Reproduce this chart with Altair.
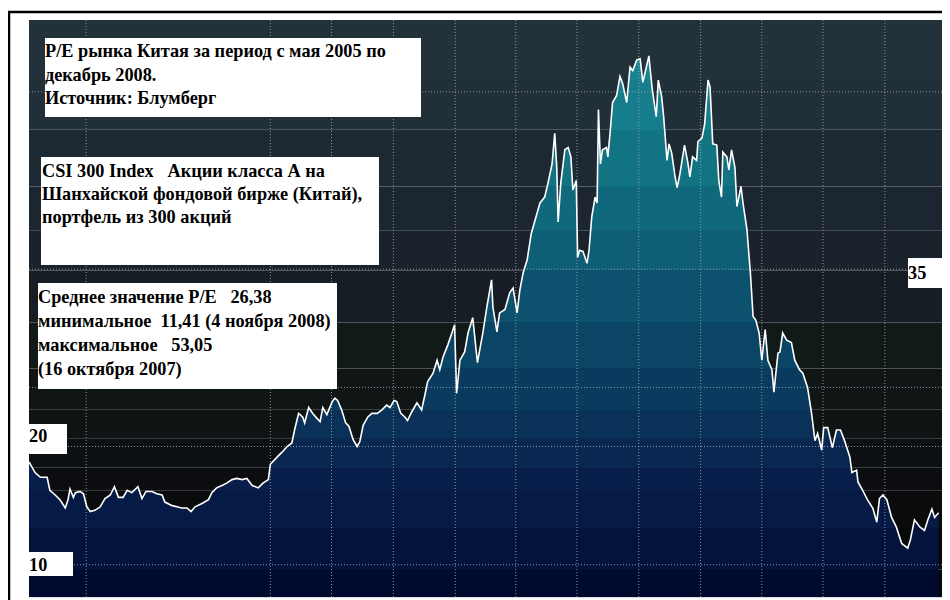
import pandas as pd
import altair as alt

# ── data: P/E of the CSI 300 ─────────────────────────────────────────────────

dates = [
    "2005-04-07", "2005-04-16", "2005-04-24", "2005-05-04", "2005-05-08", "2005-05-16",
    "2005-05-23", "2005-05-31", "2005-06-04", "2005-06-07", "2005-06-12", "2005-06-15",
    "2005-06-22", "2005-06-27", "2005-07-02", "2005-07-07", "2005-07-14", "2005-07-22",
    "2005-07-29", "2005-08-06", "2005-08-12", "2005-08-18", "2005-08-25", "2005-08-31",
    "2005-09-07", "2005-09-16", "2005-09-22", "2005-09-28", "2005-10-07", "2005-10-14",
    "2005-10-22", "2005-10-26", "2005-11-06", "2005-11-13", "2005-11-20", "2005-11-28",
    "2005-12-04", "2005-12-10", "2005-12-21", "2005-12-30",
    "2006-01-04", "2006-01-11", "2006-01-19", "2006-01-26", "2006-02-03", "2006-02-10",
    "2006-02-18", "2006-02-25", "2006-03-05", "2006-03-14", "2006-03-21", "2006-03-29",
    "2006-04-01", "2006-04-11", "2006-04-18", "2006-04-26", "2006-05-03", "2006-05-07",
    "2006-05-13", "2006-05-19", "2006-05-22", "2006-05-28", "2006-06-03", "2006-06-09",
    "2006-06-14", "2006-06-18", "2006-06-24", "2006-07-02", "2006-07-06", "2006-07-10",
    "2006-07-16", "2006-07-22", "2006-07-27", "2006-08-02", "2006-08-08", "2006-08-12",
    "2006-08-17", "2006-08-24", "2006-08-30", "2006-09-07", "2006-09-14", "2006-09-21",
    "2006-09-26", "2006-10-02", "2006-10-06", "2006-10-12", "2006-10-18", "2006-10-22",
    "2006-10-28", "2006-11-05", "2006-11-12", "2006-11-17", "2006-11-21", "2006-11-29",
    "2006-12-05", "2006-12-09", "2006-12-14", "2006-12-21", "2006-12-27", "2006-12-31",
    "2007-01-03", "2007-01-08", "2007-01-15", "2007-01-20", "2007-01-27", "2007-02-03",
    "2007-02-11", "2007-02-17", "2007-02-24", "2007-02-26", "2007-03-04", "2007-03-08",
    "2007-03-16", "2007-03-23", "2007-03-28", "2007-04-03", "2007-04-07", "2007-04-12",
    "2007-04-18", "2007-04-24", "2007-04-30", "2007-05-07", "2007-05-14", "2007-05-19",
    "2007-05-25", "2007-05-29", "2007-06-01", "2007-06-03", "2007-06-07", "2007-06-13",
    "2007-06-18", "2007-06-22", "2007-06-25", "2007-06-30", "2007-07-02", "2007-07-05",
    "2007-07-10", "2007-07-16", "2007-07-19", "2007-07-23", "2007-07-28", "2007-07-31",
    "2007-08-02", "2007-08-05", "2007-08-08", "2007-08-14", "2007-08-16", "2007-08-20",
    "2007-08-23", "2007-08-29", "2007-09-03", "2007-09-07", "2007-09-13", "2007-09-18",
    "2007-09-22", "2007-09-28", "2007-10-03", "2007-10-07", "2007-10-16", "2007-10-21",
    "2007-10-27", "2007-10-30", "2007-11-04", "2007-11-07", "2007-11-12", "2007-11-15",
    "2007-11-19", "2007-11-24", "2007-11-27", "2007-12-01", "2007-12-08", "2007-12-13",
    "2007-12-16", "2007-12-20", "2007-12-26", "2007-12-28",
    "2008-01-03", "2008-01-07", "2008-01-12", "2008-01-15", "2008-01-19", "2008-01-25",
    "2008-01-28", "2008-02-01", "2008-02-03", "2008-02-09", "2008-02-12", "2008-02-16",
    "2008-02-21", "2008-02-24", "2008-03-01", "2008-03-04", "2008-03-10", "2008-03-11",
    "2008-03-15", "2008-03-19", "2008-03-23", "2008-03-28", "2008-04-01", "2008-04-06",
    "2008-04-10", "2008-04-16", "2008-04-19", "2008-04-25", "2008-04-28", "2008-05-02",
    "2008-05-08", "2008-05-15", "2008-05-20", "2008-05-27", "2008-06-01", "2008-06-08",
    "2008-06-14", "2008-06-19", "2008-06-23", "2008-06-29", "2008-07-02", "2008-07-08",
    "2008-07-15", "2008-07-21", "2008-07-27", "2008-08-02", "2008-08-10", "2008-08-13",
    "2008-08-20", "2008-08-22", "2008-08-29", "2008-09-05", "2008-09-13", "2008-09-19",
    "2008-09-23", "2008-09-28", "2008-10-04", "2008-10-11", "2008-10-18", "2008-10-26",
    "2008-11-04", "2008-11-08", "2008-11-14", "2008-11-22", "2008-11-29", "2008-12-04",
    "2008-12-10", "2008-12-14", "2008-12-20",
]

pe_values = [
    18.7, 17.8, 17.4, 17.4, 16.3, 15.9,
    15.5, 14.8, 15.5, 16.4, 15.7, 16.1,
    16.2, 16.0, 14.9, 14.5, 14.6, 14.9,
    15.6, 15.9, 16.6, 15.7, 15.7, 16.3,
    16.1, 16.6, 15.6, 16.2, 16.2, 16.0,
    15.9, 15.3, 15.0, 14.9, 14.8, 14.8,
    14.5, 14.9, 15.2, 15.5,
    16.1, 16.5, 16.7, 16.9, 17.2, 17.3,
    17.2, 17.3, 16.7, 16.5, 16.9, 17.2,
    18.5, 19.1, 19.5, 20.0, 20.3, 21.4,
    22.8, 22.5, 22.0, 23.3, 22.8, 22.4,
    22.1, 23.3, 22.7, 23.8, 24.1, 23.9,
    23.1, 22.0, 21.7, 20.6, 20.0, 20.4,
    21.8, 22.5, 22.8, 22.8, 23.1, 23.5,
    23.3, 23.9, 23.8, 22.8, 22.5, 22.2,
    22.9, 23.7, 23.1, 24.4, 25.5, 26.2,
    27.3, 26.5, 27.6, 28.6, 29.6, 30.3,
    24.5, 27.3, 28.0, 29.6, 30.9, 27.1,
    29.6, 31.8, 34.1, 31.8, 29.7, 31.3,
    31.6, 33.0, 33.4, 31.3, 33.2, 34.7,
    35.8, 38.0, 39.2, 40.6, 41.1, 42.3,
    43.9, 46.5, 43.6, 39.0, 42.3, 45.1,
    45.3, 44.5, 41.7, 42.5, 36.0, 36.6,
    36.5, 35.5, 36.6, 39.4, 41.1, 40.6,
    48.5, 43.9, 45.1, 45.3, 44.5, 47.0,
    49.1, 49.7, 51.3, 50.7, 49.1, 52.1,
    51.8, 52.7, 52.8, 50.8, 53.05, 50.2,
    47.9, 51.0, 49.6, 47.9, 44.2, 45.6,
    44.8, 42.8, 41.9, 43.0, 45.5, 44.0,
    42.8, 44.5, 44.2, 45.8,
    46.1, 47.3, 51.0, 50.4, 45.6, 45.5,
    42.5, 41.1, 44.9, 44.5, 43.4, 45.1,
    43.6, 40.3, 42.0, 40.6, 38.3, 37.5,
    34.7, 31.0, 30.7, 29.6, 27.3, 29.9,
    27.3, 26.5, 24.6, 27.9, 28.0, 29.6,
    29.0, 28.8, 27.3, 26.5, 26.2, 25.0,
    22.8, 20.5, 21.1, 19.7, 21.6, 21.6,
    19.9, 21.4, 21.4, 20.5, 19.1, 17.8,
    18.0, 17.0, 16.3, 15.5, 14.8, 13.6,
    15.6, 15.9, 15.5, 14.0, 13.2, 11.8,
    11.41, 12.1, 13.8, 13.2, 12.9, 13.8,
    14.7, 14.0, 14.4,
]

# horizontal and vertical dotted grid, month ticks along the bottom
grid_levels = [10, 20, 25, 35, 50]
grid_dates = [
    "2005-07-01", "2006-04-01", "2006-07-01", "2006-10-01", "2007-01-01", "2007-04-01",
    "2007-07-01", "2007-10-01", "2008-01-01", "2008-04-01", "2008-07-01", "2008-10-01",
]
tick_dates = [
    "2005-05-01", "2005-07-01", "2005-08-01", "2005-09-01", "2005-12-01", "2006-04-01",
    "2006-05-01", "2006-07-01", "2006-08-01", "2006-09-01", "2006-10-01", "2006-12-01",
    "2007-01-01", "2007-02-01", "2007-04-01", "2007-05-01", "2007-06-01", "2007-07-01",
    "2007-09-01", "2007-10-01", "2007-12-01", "2008-01-01", "2008-02-01", "2008-03-01",
    "2008-04-01", "2008-06-01", "2008-07-01", "2008-08-01", "2008-09-01", "2008-10-01",
    "2008-11-01",
]

# labelled levels on the value axis
axis_labels = ["20", "10", "35"]

# annotation texts
note_source = "P/E рынка Китая за период с мая 2005 по\nдекабрь 2008.\nИсточник: Блумберг"
note_index = ("CSI 300 Index\u00a0\u00a0 Акции класса А на\n"
              "Шанхайской фондовой бирже (Китай),\nпортфель из 300 акций")
note_stats = ("Среднее значение P/E\u00a0\u00a0 26,38\n"
              "минимальное\u00a0 11,41 (4 ноября 2008)\n"
              "максимальное\u00a0\u00a0 53,05\n(16 октября 2007)")

# ── colour constants ────────────────────────────────────────────────────────

band_edges = [7.27, 9.6, 13.1, 16.3, 18.2, 20.7, 23.1, 26.6, 30.5, 34.9, 38.3, 42.0, 46.8, 51.0, 56.08]
AREA_COLORS = [
    "#010b30", "#03133b", "#051a45", "#081f4b", "#0a2752", "#0a3158", "#0a3a5e",
    "#0a4565", "#0c516d", "#0e5e76", "#10687d", "#127383", "#157d8c", "#178492",
]
BG_COLORS = [
    "#070809", "#08090b", "#0a0b0d", "#0b0d11", "#0d1013", "#0e1314", "#101615",
    "#121a19", "#161d24", "#1a222b", "#1b2630", "#1d2a33", "#212f38", "#22313a",
]
GRID_COLOR = "#a0a8b0"
FONT = "Liberation Serif"

# ── layout ──────────────────────────────────────────────────────────────────

PLOT_W, PLOT_H = 913, 577
Y_DOMAIN = [band_edges[0], band_edges[-1]]


def dt(s):
    y, m, d = (int(p) for p in s.split("-"))
    return alt.DateTime(year=y, month=m, date=d)


x_scale = alt.Scale(domain=[dt("2005-04-07"), dt("2008-12-25")], nice=False)
y_scale = alt.Scale(domain=Y_DOMAIN, nice=False, zero=False)

df = pd.DataFrame({"date": dates, "pe": pe_values})
bands = pd.DataFrame({"lo": band_edges[:-1], "hi": band_edges[1:], "bg": BG_COLORS})

# banded fill: hard-stop gradient over the area's bounding box (peak -> bottom)
top_v, bot_v = max(pe_values), Y_DOMAIN[0]


def offset(v):
    return min(1.0, max(0.0, (top_v - v) / (top_v - bot_v)))


stops = []
for lo, hi, col in reversed(list(zip(band_edges[:-1], band_edges[1:], AREA_COLORS))):
    stops.append(alt.GradientStop(offset=offset(hi), color=col))
    stops.append(alt.GradientStop(offset=offset(lo), color=col))

# ── layers ──────────────────────────────────────────────────────────────────

background = alt.Chart(bands).mark_rect().encode(
    x=alt.value(0),
    x2=alt.value(PLOT_W),
    y=alt.Y("lo:Q", scale=y_scale, axis=None),
    y2="hi:Q",
    color=alt.Color("bg:N", scale=None, legend=None),
)

area = alt.Chart(df).mark_area(
    color=alt.Gradient(gradient="linear", stops=stops, x1=0, x2=0, y1=0, y2=1),
).encode(
    x=alt.X(
        "date:T",
        scale=x_scale,
        axis=alt.Axis(
            values=[dt(s) for s in tick_dates],
            labels=False,
            title=None,
            grid=False,
            ticks=True,
            tickColor="white",
            tickSize=5,
            tickWidth=1,
            domainColor="black",
            domainWidth=2,
        ),
    ),
    y=alt.Y("pe:Q", scale=y_scale, axis=None),
    y2=alt.datum(Y_DOMAIN[0]),
)

h_grid = alt.Chart(pd.DataFrame({"level": grid_levels})).mark_rule(
    color=GRID_COLOR, strokeDash=[1, 2], strokeWidth=1, opacity=0.85
).encode(y=alt.Y("level:Q", scale=y_scale, axis=None))

v_grid = alt.Chart(pd.DataFrame({"date": grid_dates})).mark_rule(
    color=GRID_COLOR, strokeDash=[1, 2], strokeWidth=1, opacity=0.85
).encode(x=alt.X("date:T", scale=x_scale, axis=None))

line = alt.Chart(df).mark_line(color="white", strokeWidth=1.6).encode(
    x=alt.X("date:T", scale=x_scale, axis=None),
    y=alt.Y("pe:Q", scale=y_scale, axis=None),
)


def note(text, x0, y0, x1, y1, tx, ty, line_h=23.5, size=18.3):
    """White box with bold black serif text, placed in plot pixels."""
    src = pd.DataFrame({"t": [text]})
    box = alt.Chart(src).mark_rect(color="white").encode(
        x=alt.value(x0), x2=alt.value(x1), y=alt.value(y0), y2=alt.value(y1)
    )
    txt = alt.Chart(src).mark_text(
        align="left", baseline="alphabetic", font=FONT, fontSize=size,
        fontWeight="bold", color="black", lineBreak="\n", lineHeight=line_h,
    ).encode(x=alt.value(tx), y=alt.value(ty), text="t:N")
    return box + txt


notes = [
    note(note_source, 16, 18, 392, 97, 16, 37),
    note(note_index, 12, 137, 350, 245, 13, 157, line_h=23),
    note(note_stats, 9, 263, 308, 369, 9, 283, line_h=24),
    note(axis_labels[0], 0, 404, 38, 434, 0, 422),
    note(axis_labels[1], 0, 532, 44, 556, 0, 551),
    note(axis_labels[2], 879, 238, 913, 268, 879, 259),
]

frame = alt.Chart(pd.DataFrame({"a": [0]})).mark_rect(
    fillOpacity=0, stroke="black", strokeWidth=2.5
).encode(x=alt.value(-20), x2=alt.value(921), y=alt.value(-8), y2=alt.value(600))

chart = alt.layer(background, area, h_grid, v_grid, line, *notes, frame).properties(
    width=PLOT_W,
    height=PLOT_H,
    padding={"left": 21, "top": 12, "right": 0, "bottom": 3},
    autosize=alt.AutoSizeParams(type="none"),
).configure_view(strokeWidth=0).configure(background="white")

chart.save("out.html", embed_options={"renderer": "svg", "actions": False})
